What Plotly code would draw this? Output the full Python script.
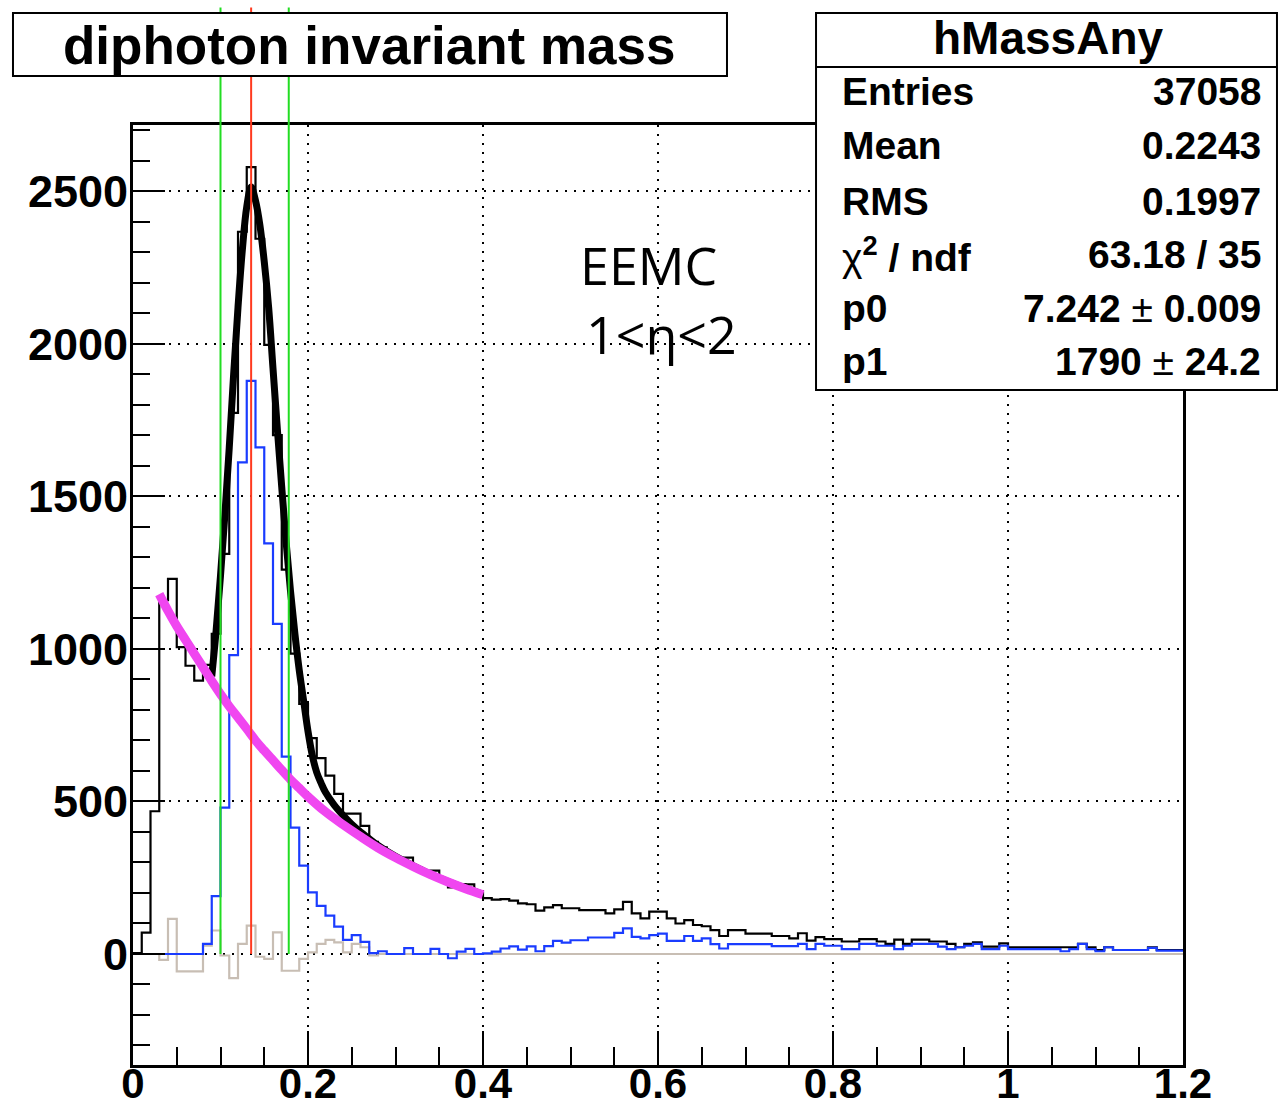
import numpy as np
import plotly.graph_objects as go

# ---------------- data ----------------
bin_width = 0.01
n_bins = 120

black_counts = [3, 70, 468, 1160, 1230, 1006, 945, 896, 948, 1050,
                1312, 1774, 2368, 2580, 2345, 1997, 1701, 1260, 985, 820,
                708, 642, 585, 525, 460, 460, 420, 368, 350, 326,
                311, 316, 283, 270, 273, 244, 218, 229, 228, 201,
                183, 178, 180, 175, 166, 163, 142, 153, 160, 150,
                150, 144, 144, 144, 133, 146, 171, 133, 117, 139,
                139, 117, 100, 111, 95, 91, 78, 59, 78, 78,
                67, 67, 67, 59, 59, 51, 68, 44, 55, 49,
                49, 41, 41, 49, 49, 41, 33, 47, 33, 47,
                47, 41, 41, 33, 22, 33, 38, 24, 24, 35,
                22, 22, 22, 22, 22, 22, 22, 22, 33, 22,
                13, 22, 13, 13, 13, 13, 22, 13, 13, 13]

blue_counts = [0, 0, 0, 0, 0, 0, 0, 0, 33, 190,
               480, 980, 1612, 1879, 1661, 1346, 1082, 647, 414, 290,
               202, 158, 126, 90, 46, 62, 40, 3, 9, 0,
               0, 19, 0, 0, 17, 0, -14, 8, 17, 0,
               2, 8, 18, 25, 14, 25, 9, 26, 43, 37,
               45, 45, 54, 54, 54, 69, 84, 56, 51, 62,
               67, 43, 43, 59, 43, 51, 32, 18, 32, 32,
               32, 32, 32, 26, 26, 26, 33, 16, 33, 27,
               27, 16, 16, 33, 33, 27, 27, 16, 27, 33,
               33, 33, 24, 16, 22, 27, 33, 16, 16, 27,
               16, 16, 16, 16, 16, 16, 9, 16, 33, 16,
               9, 22, 13, 13, 13, 13, 20, 11, 11, 11]

grey_counts = [0, 0, 0, -19, 115, -57, -57, -57, 27, 77,
               -5, -79, 33, 93, -9, -16, 71, -55, -55, -16,
               5, 33, 46, 38, 5, 33, 22, -5, 0, 0] + [0] * 90

fit_x = [0.090, 0.095, 0.100, 0.105, 0.110, 0.115, 0.120, 0.125, 0.130, 0.135,
         0.140, 0.145, 0.150, 0.155, 0.160, 0.165, 0.170, 0.175, 0.180, 0.185,
         0.190, 0.195, 0.200, 0.205, 0.210, 0.215, 0.220, 0.230, 0.240, 0.250,
         0.260, 0.270, 0.280, 0.300, 0.320, 0.340, 0.360, 0.380, 0.400]
fit_y = [910, 1060, 1240, 1440, 1660, 1900, 2120, 2310, 2450, 2515,
         2470, 2390, 2270, 2120, 1920, 1720, 1530, 1350, 1190, 1050,
         930, 830, 730, 650, 595, 560, 530, 488, 455, 425,
         400, 378, 356, 320, 290, 262, 238, 216, 196]

bg_x = [0.03, 0.04, 0.05, 0.06, 0.07, 0.08, 0.09, 0.10, 0.11, 0.12,
        0.13, 0.14, 0.15, 0.16, 0.17, 0.18, 0.19, 0.20, 0.22, 0.24,
        0.26, 0.28, 0.30, 0.32, 0.34, 0.36, 0.38, 0.40]
bg_y = [1180, 1125, 1075, 1030, 985, 940, 895, 852, 812, 775,
        738, 700, 667, 635, 603, 572, 544, 516, 466, 424,
        385, 348, 316, 287, 260, 236, 214, 194]

window_lines = [0.100, 0.178]
peak_line = 0.135

x_ticks = [0, 0.2, 0.4, 0.6, 0.8, 1.0, 1.2]
y_ticks = [0, 500, 1000, 1500, 2000, 2500]

title_text = "diphoton invariant mass"
stats_name = "hMassAny"
stat_labels = ["Entries", "Mean", "RMS",
               "<span style='font-weight:normal'>χ</span><sup>2</sup> / ndf", "p0", "p1"]
stat_values = ["37058", "0.2243", "0.1997", "63.18 / 35",
               "7.242 <span style='font-weight:normal'>±</span> 0.009",
               "1790 <span style='font-weight:normal'>±</span> 24.2"]
label_lines = ["EEMC", "1<η<2"]

# ---------------- figure ----------------
edges = np.arange(n_bins + 1) * bin_width


def step_trace(counts, color, width):
    return go.Scatter(x=edges, y=list(counts) + [counts[-1]], mode="lines",
                      line=dict(color=color, width=width, shape="hv"),
                      showlegend=False, hoverinfo="skip")


fig = go.Figure()
fig.add_trace(step_trace(black_counts, "#000000", 2.2))
fig.add_trace(step_trace(grey_counts, "#c8beb4", 2.2))
fig.add_trace(step_trace(blue_counts, "#1a3cff", 2.2))
fig.add_trace(go.Scatter(x=fit_x, y=fit_y, mode="lines",
                         line=dict(color="#000000", width=7, shape="spline"),
                         showlegend=False, hoverinfo="skip"))
fig.add_trace(go.Scatter(x=bg_x, y=bg_y, mode="lines",
                         line=dict(color="#f046f0", width=9, shape="spline"),
                         showlegend=False, hoverinfo="skip"))

Y_MIN, Y_MAX = -364, 2718
shapes = []
for xv, col in [(window_lines[0], "#22dd22"), (window_lines[1], "#22dd22"), (peak_line, "#ff3a1f")]:
    shapes.append(dict(type="line", xref="x", yref="y", x0=xv, x1=xv, y0=0, y1=Y_MAX,
                       line=dict(color=col, width=2), layer="above"))
    shapes.append(dict(type="line", xref="x", yref="paper", x0=xv, x1=xv, y0=1.0, y1=1.125,
                       line=dict(color=col, width=2), layer="above"))

# title box
shapes.append(dict(type="rect", xref="paper", yref="paper", x0=-0.1143, x1=0.5657,
                   y0=1.0521, y1=1.1191, fillcolor="white",
                   line=dict(color="black", width=2), layer="above"))
# stats box
shapes.append(dict(type="rect", xref="paper", yref="paper", x0=0.6505, x1=1.0895,
                   y0=0.7181, y1=1.1191, fillcolor="white",
                   line=dict(color="black", width=2), layer="above"))
shapes.append(dict(type="line", xref="paper", yref="paper", x0=0.6505, x1=1.0895,
                   y0=1.0617, y1=1.0617, line=dict(color="black", width=2), layer="above"))

BOLD = "Liberation Sans"
annotations = []
annotations.append(dict(xref="paper", yref="paper", x=0.2257, y=1.0851, text=title_text,
                        showarrow=False, xanchor="center", yanchor="middle",
                        font=dict(family=BOLD, size=53, color="black", weight="bold")))
annotations.append(dict(xref="paper", yref="paper", x=0.8714, y=1.0926, text=stats_name,
                        showarrow=False, xanchor="center", yanchor="middle",
                        font=dict(family=BOLD, size=46, color="black", weight="bold")))
row_px = [92, 146, 201, 254, 308, 361]
for lab, val, py in zip(stat_labels, stat_values, row_px):
    yp = (1065 - py) / 940
    annotations.append(dict(xref="paper", yref="paper", x=(840 - 133) / 1050, y=yp, text=lab,
                            showarrow=False, xanchor="left", yanchor="middle",
                            font=dict(family=BOLD, size=39, color="black", weight="bold")))
    annotations.append(dict(xref="paper", yref="paper", x=(1263 - 133) / 1050, y=yp, text=val,
                            showarrow=False, xanchor="right", yanchor="middle",
                            font=dict(family=BOLD, size=39, color="black", weight="bold")))
annotations.append(dict(xref="paper", yref="paper", x=(578 - 133) / 1050, y=(1065 - 264) / 940,
                        text=label_lines[0], showarrow=False, xanchor="left", yanchor="middle",
                        font=dict(family="Open Sans", size=52, color="black")))
annotations.append(dict(xref="paper", yref="paper", x=(584 - 133) / 1050, y=(1065 - 333) / 940,
                        text=label_lines[1], showarrow=False, xanchor="left", yanchor="middle",
                        font=dict(family="Open Sans", size=52, color="black")))

axis_common = dict(showline=True, linecolor="black", linewidth=3, mirror=True,
                   ticks="inside", tickcolor="black", tickwidth=2,
                   showgrid=True, gridcolor="black", gridwidth=2, griddash="2px,7px",
                   zeroline=False, automargin=False)

fig.update_layout(
    width=1279, height=1111,
    margin=dict(l=133, r=96, t=125, b=46),
    paper_bgcolor="white", plot_bgcolor="white",
    showlegend=False,
    shapes=shapes, annotations=annotations,
    xaxis=dict(range=[0, 1.2], tickvals=x_ticks, ticktext=[f"{v:g}" for v in x_ticks],
               ticklen=34, ticklabelstandoff=-20,
               tickfont=dict(family=BOLD, size=42, color="black", weight="bold"),
               minor=dict(dtick=0.05, tick0=0, ticks="inside", ticklen=18, tickwidth=2,
                          tickcolor="black", showgrid=False),
               **axis_common),
    yaxis=dict(range=[Y_MIN, Y_MAX], tickvals=y_ticks, ticklen=32, ticklabelstandoff=-7,
               tickfont=dict(family=BOLD, size=45, color="black", weight="bold"),
               minor=dict(dtick=100, tick0=0, ticks="inside", ticklen=17, tickwidth=2,
                          tickcolor="black", showgrid=False),
               **axis_common),
)

fig.write_html("out.html")
